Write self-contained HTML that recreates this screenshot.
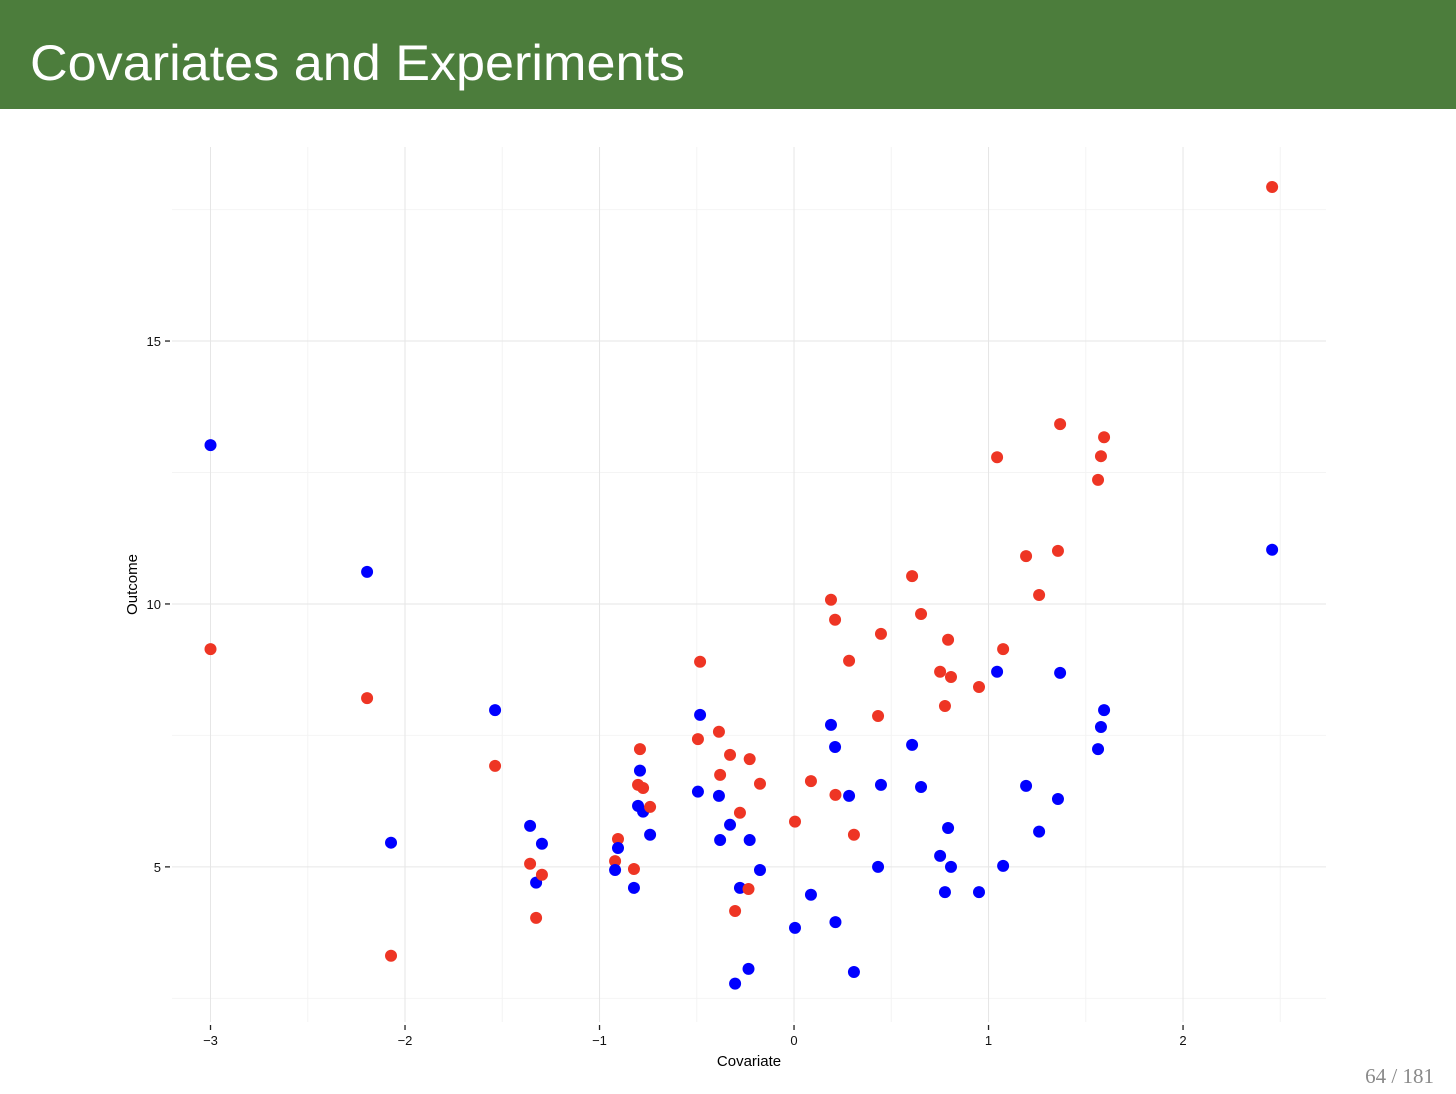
<!DOCTYPE html>
<html><head><meta charset="utf-8">
<style>
html,body{margin:0;padding:0;background:#fff;}
body{width:1456px;height:1094px;position:relative;overflow:hidden;font-family:"Liberation Sans",sans-serif;}
#header{position:absolute;left:0;top:0;width:1456px;height:109px;background:#4c7d3c;}
#pagenum{position:absolute;right:22px;top:1064px;font-family:"Liberation Serif",serif;font-size:21px;color:#8a8a8a;}
svg{position:absolute;left:0;top:0;}
</style></head>
<body>
<div id="header">
<svg width="1456" height="109"><text x="30" y="80" font-size="50" fill="#fff" font-family="Liberation Sans, sans-serif" textLength="655" lengthAdjust="spacingAndGlyphs">Covariates and Experiments</text></svg>
</div>
<svg id="chart" width="1456" height="1094" style="top:0"></svg>
<div id="pagenum">64 / 181</div>
<script>
const covariate=[-3.00,-2.195,-2.072,-1.537,-1.357,-1.326,-1.296,-0.920,-0.905,-0.823,-0.802,-0.792,-0.776,-0.740,-0.494,-0.483,-0.386,-0.380,-0.329,-0.303,-0.278,-0.228,-0.234,-0.175,0.005,0.087,0.190,0.211,0.213,0.283,0.308,0.432,0.447,0.607,0.653,0.751,0.776,0.792,0.807,0.951,1.044,1.075,1.193,1.260,1.357,1.368,1.563,1.578,1.594,2.458];
const outcomeRed=[9.14,8.21,3.31,6.92,5.06,4.03,4.85,5.11,5.53,4.96,6.56,7.24,6.50,6.14,7.43,8.90,7.57,6.75,7.13,4.16,6.03,7.05,4.58,6.58,5.86,6.63,10.08,9.70,6.37,8.92,5.61,7.87,9.43,10.53,9.81,8.71,8.06,9.32,8.61,8.42,12.79,9.14,10.91,10.17,11.01,13.42,12.36,12.81,13.17,17.93];
const outcomeBlue=[13.02,10.61,5.46,7.98,5.78,4.70,5.44,4.94,5.36,4.60,6.16,6.83,6.05,5.61,6.43,7.89,6.35,5.51,5.80,2.78,4.60,5.51,3.06,4.94,3.84,4.47,7.70,7.28,3.95,6.35,3.00,5.00,6.56,7.32,6.52,5.21,4.52,5.74,5.00,4.52,8.71,5.02,6.54,5.67,6.29,8.69,7.24,7.66,7.98,11.03];
const xTicks=[-3,-2,-1,0,1,2];
const xTickLabels=["\u22123","\u22122","\u22121","0","1","2"];
const yTicks=[5,10,15];
const yTickLabels=["5","10","15"];
const xMinor=[-2.5,-1.5,-0.5,0.5,1.5,2.5];
const yMinor=[2.5,7.5,12.5,17.5];

const L=172,R=1326,T=147,B=1022;
const xMin=-3.198,xMax=2.735,yMin=2.05,yMax=18.69;
const sx=v=>L+(v-xMin)/(xMax-xMin)*(R-L);
const sy=v=>B-(v-yMin)/(yMax-yMin)*(B-T);
const svg=document.getElementById('chart');
const NS='http://www.w3.org/2000/svg';
function mk(tag,attrs){const e=document.createElementNS(NS,tag);for(const k in attrs)e.setAttribute(k,attrs[k]);svg.appendChild(e);return e;}
xMinor.forEach(v=>{const e=mk('line',{x1:sx(v),x2:sx(v),y1:T,y2:B,stroke:'#f4f4f4','stroke-width':1});

});
yMinor.forEach(v=>{const e=mk('line',{x1:L,x2:R,y1:sy(v),y2:sy(v),stroke:'#f4f4f4','stroke-width':1});

});
xTicks.forEach((v,i)=>{const g=mk('line',{x1:sx(v),x2:sx(v),y1:T,y2:B,stroke:'#e6e6e6','stroke-width':1});


const t=mk('line',{x1:sx(v),x2:sx(v),y1:B+3,y2:B+8,stroke:'#222','stroke-width':1.3});


const l=mk('text',{x:sx(v),y:B+23,'font-size':13,'text-anchor':'middle',fill:'#111'});l.textContent=xTickLabels[i];

});
yTicks.forEach((v,i)=>{const g=mk('line',{x1:L,x2:R,y1:sy(v),y2:sy(v),stroke:'#e6e6e6','stroke-width':1});


const t=mk('line',{x1:L-7,x2:L-2,y1:sy(v),y2:sy(v),stroke:'#222','stroke-width':1.3});


const l=mk('text',{x:L-11,y:sy(v)+5,'font-size':13,'text-anchor':'end',fill:'#111'});l.textContent=yTickLabels[i];

});
const xt=mk('text',{x:(L+R)/2,y:1066,'font-size':15,'text-anchor':'middle',fill:'#000'});xt.textContent='Covariate';


const yt=mk('text',{x:137,y:(T+B)/2,'font-size':15,'text-anchor':'middle',fill:'#000',transform:'rotate(-90 137 '+((T+B)/2)+')'});yt.textContent='Outcome';


covariate.forEach((c,i)=>{
const r=mk('circle',{cx:sx(c),cy:sy(outcomeRed[i]),r:6,fill:'#ee3524'});


const b=mk('circle',{cx:sx(c),cy:sy(outcomeBlue[i]),r:6,fill:'#0000ff'});


});
</script>
</body></html>
